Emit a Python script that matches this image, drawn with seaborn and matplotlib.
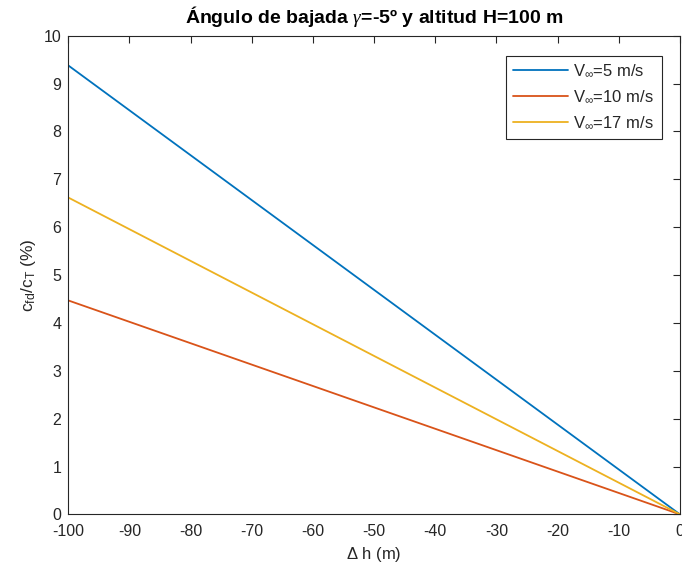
import matplotlib
matplotlib.use("Agg")
import matplotlib.pyplot as plt
import seaborn as sns
import pandas as pd

# Height change (m) and fuel ratio endpoints (%) for each free-stream speed
delta_h = [-100, 0]
ratio_v5 = [9.38, 0.0]
ratio_v10 = [4.47, 0.0]
ratio_v17 = [6.62, 0.0]
series_labels = [r"V$_{\infty}$=5 m/s", r"V$_{\infty}$=10 m/s", r"V$_{\infty}$=17 m/s"]
series_colors = ["#0072BD", "#D95319", "#EDB120"]
x_ticks = list(range(-100, 1, 10))
y_ticks = list(range(0, 11))

sns.set_theme(style="white")
plt.rcParams["font.family"] = ["Liberation Sans", "DejaVu Sans"]
plt.rcParams["axes.unicode_minus"] = False
plt.rcParams["mathtext.fontset"] = "custom"
plt.rcParams["mathtext.rm"] = "Liberation Sans"
plt.rcParams["mathtext.it"] = "Liberation Serif:italic"

rows = []
for label, vals in zip(series_labels, [ratio_v5, ratio_v10, ratio_v17]):
    for x, y in zip(delta_h, vals):
        rows.append({"dh": x, "ratio": y, "serie": label})
df = pd.DataFrame(rows)

fig = plt.figure(figsize=(6.82, 5.76), dpi=100)
ax = fig.add_axes([0.1, 0.107, 0.897, 0.831])

sns.lineplot(data=df, x="dh", y="ratio", hue="serie", hue_order=series_labels,
             palette=series_colors, linewidth=1.3, ax=ax, legend=True)

ax.set_xlim(-100, 0)
ax.set_ylim(0, 10)
ax.set_xticks(x_ticks)
ax.set_yticks(y_ticks)
ax.tick_params(direction="in", length=5, width=0.8, colors="#262626",
               labelsize=11.5, top=True, right=True, pad=5)
ax.tick_params(axis="x", pad=7)
for s in ax.spines.values():
    s.set_color("#262626")
    s.set_linewidth(0.8)

ax.set_xlabel(r"$\Delta$ h (m)", fontsize=12, color="#262626")
ax.set_ylabel(r"c$_{\rm fd}$/c$_{\rm T}$ (%)", fontsize=12.5, color="#262626")
ax.set_title(r"Ángulo de bajada $\mathit{\gamma}$=-5º y altitud H=100 m",
             fontsize=14, fontweight="bold", color="black", pad=9)

leg = ax.legend(loc="upper right", bbox_to_anchor=(0.97, 0.958), borderaxespad=0,
                fontsize=12, frameon=True, fancybox=False, framealpha=1,
                edgecolor="#262626", borderpad=0.45, handlelength=3.3,
                handletextpad=0.3, labelspacing=0.6)
leg.get_frame().set_linewidth(0.8)

fig.savefig("out.png", dpi=100)
